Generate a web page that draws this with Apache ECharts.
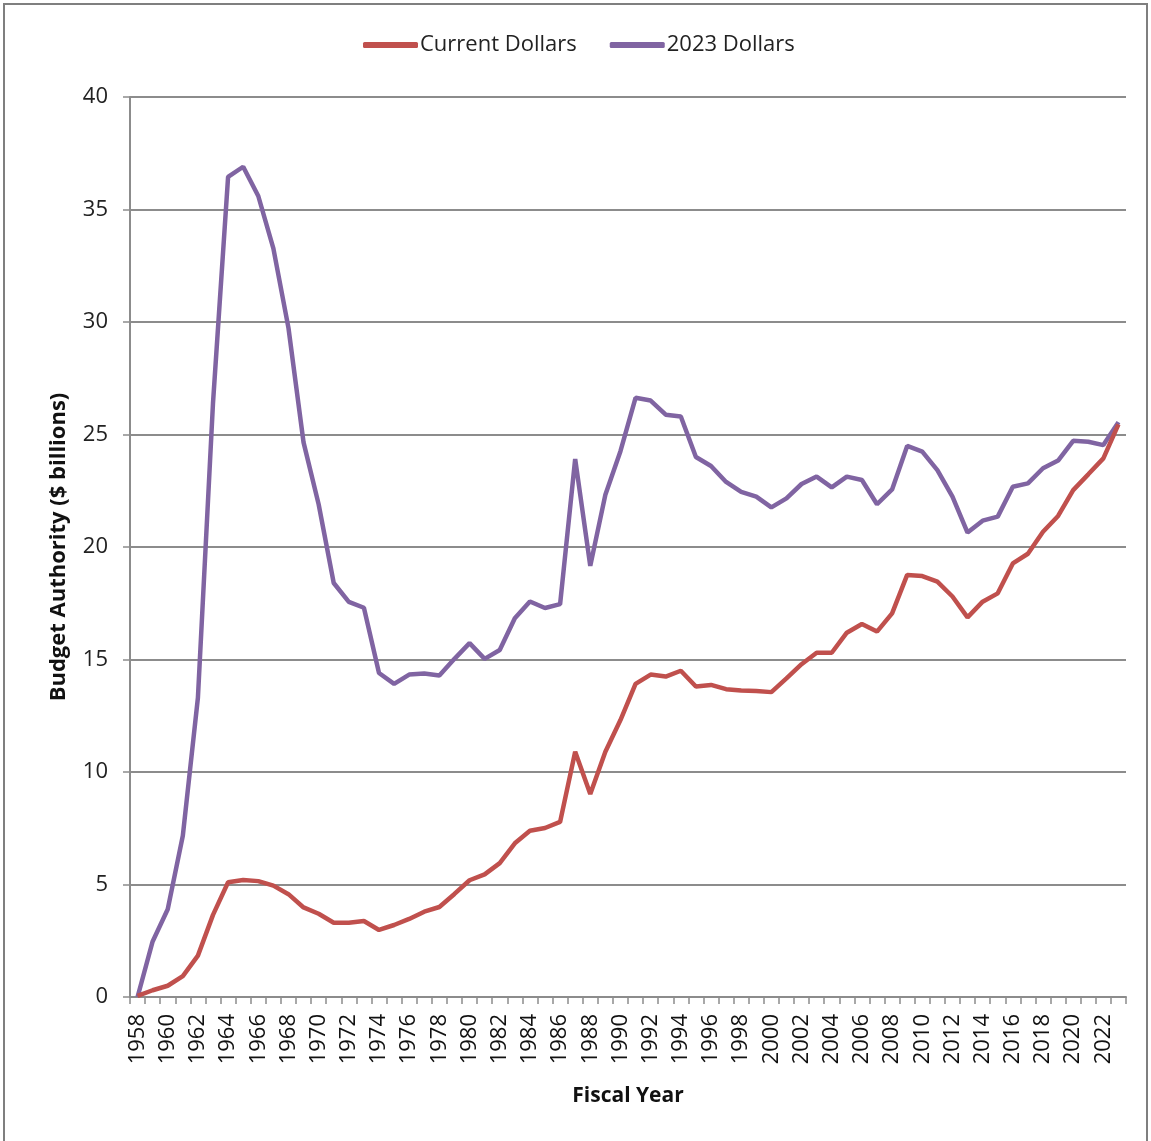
<!DOCTYPE html>
<html>
<head>
<meta charset="utf-8">
<script src="https://cdn.jsdelivr.net/npm/echarts@6/dist/echarts.min.js"></script>
<style>
  html, body { margin: 0; padding: 0; background: #fff; }
  #main { width: 1151px; height: 1141px; }
</style>
</head>
<body>
<div id="main"></div>
<script>
// fiscal years 1958 - 2023
var years = [];
for (var y = 1958; y <= 2023; y++) years.push(String(y));

// budget authority, $ billions
var currentDollars = [
  0.05, 0.3, 0.5, 0.93, 1.84, 3.65, 5.1, 5.2, 5.15, 4.95,
  4.57, 3.98, 3.7, 3.3, 3.3, 3.38, 2.98, 3.2, 3.47, 3.79,
  4.0, 4.58, 5.19, 5.45, 5.95, 6.83, 7.39, 7.51, 7.78, 10.9,
  9.02, 10.9, 12.31, 13.92, 14.33, 14.24, 14.5, 13.8, 13.87, 13.68,
  13.62, 13.6, 13.55, 14.16, 14.79, 15.3, 15.3, 16.19, 16.58, 16.24,
  17.05, 18.76, 18.71, 18.46, 17.8, 16.87, 17.57, 17.94, 19.27, 19.7,
  20.68, 21.38, 22.53, 23.23, 23.94, 25.45
];
var dollars2023 = [
  0, 2.47, 3.9, 7.17, 13.3, 26.4, 36.45, 36.9, 35.6, 33.27,
  29.74, 24.65, 21.9, 18.4, 17.56, 17.3, 14.4, 13.92, 14.33, 14.38,
  14.29, 15.03, 15.73, 15.03, 15.42, 16.83, 17.58, 17.29, 17.46, 23.91,
  19.16, 22.32, 24.26, 26.63, 26.51, 25.88, 25.8, 24.0, 23.6, 22.89,
  22.45, 22.24, 21.76, 22.16, 22.8, 23.13, 22.65, 23.13, 22.98, 21.9,
  22.56, 24.49, 24.24, 23.42, 22.24, 20.64, 21.17, 21.35, 22.68, 22.83,
  23.5, 23.84, 24.72, 24.68, 24.53, 25.55
];

var chart = echarts.init(document.getElementById('main'));

var font = '"Open Sans", Lato, sans-serif';

var option = {
  backgroundColor: '#fff',
  animation: false,
  // outer frame of the picture
  graphic: [{
    type: 'rect',
    shape: { x: 4, y: 4, width: 1143, height: 1150 },
    style: { fill: 'none', stroke: '#7f7f7f', lineWidth: 2 },
    silent: true
  }],
  legend: {
    top: 29,
    left: 358,
    itemWidth: 55,
    itemHeight: 6,
    itemGap: 33,
    icon: 'roundRect',
    textStyle: { fontFamily: font, fontSize: 22, color: '#222', padding: [0, 0, 0, -3] },
    data: ['Current Dollars', '2023 Dollars']
  },
  grid: { left: 130, right: 25, top: 97, bottom: 144, containLabel: false },
  xAxis: {
    type: 'category',
    data: years,
    boundaryGap: true,
    name: 'Fiscal Year',
    nameLocation: 'middle',
    nameGap: 89,
    nameTextStyle: { fontFamily: font, fontSize: 21, fontWeight: 'bold', color: '#111' },
    axisLine: { lineStyle: { color: '#8c8c8c', width: 2 } },
    axisTick: { show: true, interval: 0, length: 7, lineStyle: { color: '#8c8c8c', width: 1.5 } },
    axisLabel: {
      interval: 1,
      rotate: 90,
      margin: 17,
      fontFamily: font,
      fontSize: 22,
      color: '#111'
    }
  },
  yAxis: {
    type: 'value',
    min: 0,
    max: 40,
    interval: 5,
    name: 'Budget Authority ($ billions)',
    nameLocation: 'middle',
    nameGap: 60,
    nameTextStyle: { fontFamily: font, fontSize: 22, fontWeight: 'bold', color: '#111' },
    axisLine: { show: true, lineStyle: { color: '#8c8c8c', width: 2 } },
    axisTick: { show: true, length: 7, lineStyle: { color: '#8c8c8c', width: 1.5 } },
    axisLabel: { fontFamily: font, fontSize: 22, color: '#222', margin: 22 },
    splitLine: { lineStyle: { color: '#8c8c8c', width: 2 } }
  },
  series: [
    {
      name: 'Current Dollars',
      type: 'line',
      data: currentDollars,
      symbol: 'none',
      color: '#C0504D',
      lineStyle: { width: 4.5, color: '#C0504D' },
      z: 3
    },
    {
      name: '2023 Dollars',
      type: 'line',
      data: dollars2023,
      symbol: 'none',
      color: '#8064A2',
      lineStyle: { width: 4.5, color: '#8064A2' },
      z: 2
    }
  ]
};

chart.setOption(option);
</script>
</body>
</html>
